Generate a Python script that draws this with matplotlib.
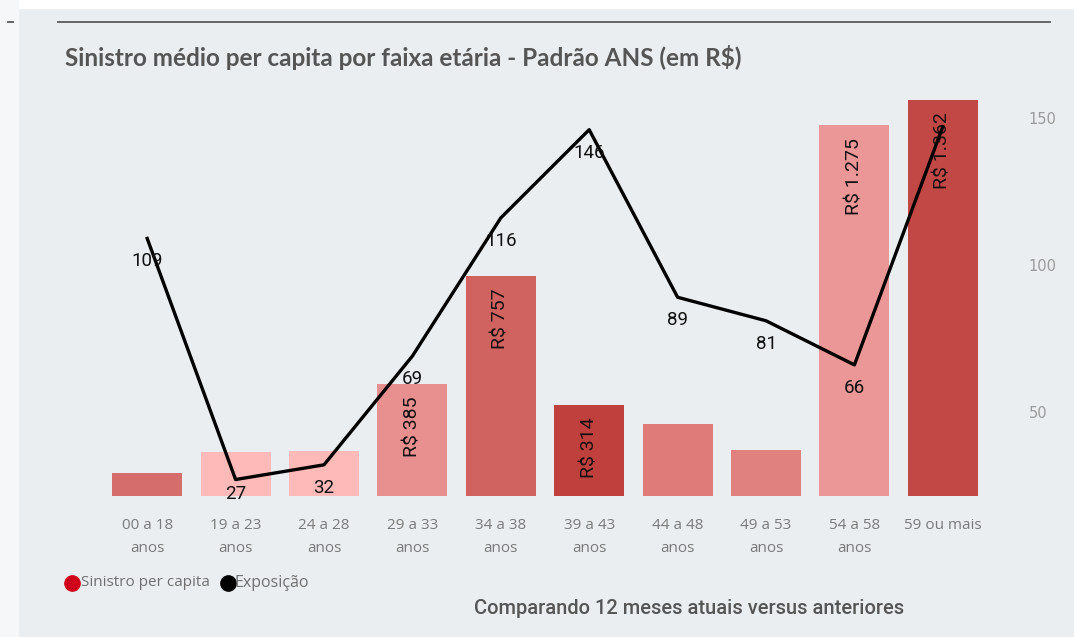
import matplotlib
matplotlib.use("Agg")
import matplotlib.pyplot as plt
from matplotlib.lines import Line2D
from matplotlib.patches import Rectangle

faixas = ["00 a 18\nanos", "19 a 23\nanos", "24 a 28\nanos", "29 a 33\nanos", "34 a 38\nanos",
          "39 a 43\nanos", "44 a 48\nanos", "49 a 53\nanos", "54 a 58\nanos", "59 ou mais"]
sinistro = [79, 151, 155, 385, 757, 314, 248, 158, 1275, 1362]
exposicao = [109, 27, 32, 69, 116, 146, 89, 81, 66, 147]
cores = ["#d46d6c", "#fdbab9", "#fdbab9", "#e8908f", "#d0625f",
         "#c0403e", "#df7c7a", "#e0817f", "#ec9797", "#c24846"]
mostrar_rotulo_linha = [True, True, True, True, True, True, True, True, True, False]

BG = "#eaeef1"
W, H = 1074, 637
Y2MIN, Y2MAX = 21.4, 157.8
AX_H = 496 - 95  # altura da área do gráfico em px

fig = plt.figure(figsize=(W / 100, H / 100), dpi=100, facecolor=BG)
# faixa branca do print
fig.add_artist(Rectangle((0, 1 - 8 / H), 1, 8 / H, transform=fig.transFigure, color="white", zorder=0))
fig.add_artist(Rectangle((0, 0), 18 / W, 1, transform=fig.transFigure, color="#f6f7f8", zorder=0))
fig.add_artist(Line2D([58 / W, 1050 / W], [1 - 22 / H] * 2, color="#5a5a5a", lw=1.3))
fig.add_artist(Line2D([8 / W, 13 / W], [1 - 22 / H] * 2, color="#5a5a5a", lw=1.3))

ax = fig.add_axes([103 / W, 1 - 496 / H, (987 - 103) / W, AX_H / H])
ax.set_facecolor("none")
x = list(range(len(faixas)))
ax.bar(x, sinistro, width=0.79, color=cores, zorder=1)
ax.set_xlim(-0.5, len(faixas) - 0.5)
ax.set_ylim(0, 1379)
ax.set_yticks([])
for s in ax.spines.values():
    s.set_visible(False)
ax.set_xticks(x)
ax.set_xticklabels(faixas, fontsize=11, color="#7a7a7a", family="Open Sans", linespacing=1.75)
ax.tick_params(axis="x", length=0, pad=16)

# rótulos das barras (só onde cabem)
for i, v in enumerate(sinistro):
    if v < 300:
        continue
    txt = "R$ " + f"{v:,}".replace(",", ".")
    ax.annotate(txt, (i, v), xytext=(0, -9), textcoords="offset points", rotation=90,
                ha="center", va="top", fontsize=14, color="#111111", family="Roboto", zorder=3)

ax2 = ax.twinx()
ax2.set_ylim(Y2MIN, Y2MAX)
ax2.plot(x, exposicao, color="black", lw=2.4, zorder=4)
ax2.set_yticks([50, 100, 150])
ax2.tick_params(axis="y", length=0, pad=30, labelsize=10.5, labelcolor="#9a9a9a")
for s in ax2.spines.values():
    s.set_visible(False)
px_por_unid = AX_H / (Y2MAX - Y2MIN)
for i, v in enumerate(exposicao):
    if not mostrar_rotulo_linha[i]:
        continue
    desloc = min(23, (v - Y2MIN) * px_por_unid - 2) * 0.72
    ax2.annotate(str(v), (i, v), xytext=(0, -desloc), textcoords="offset points",
                 ha="center", va="center", fontsize=13.5, color="#111111", family="Roboto", zorder=5)

fig.text(65 / W, 1 - 57 / H, "Sinistro médio per capita por faixa etária - Padrão ANS (em R$)",
         fontsize=17.5, fontweight="bold", color="#555555", family="Lato", va="center", ha="left")

# legenda
fig.add_artist(Line2D([72 / W], [1 - 583 / H], marker="o", markersize=11, color="#d0021b", lw=0))
fig.text(81 / W, 1 - 583 / H, "Sinistro per capita", fontsize=11, color="#6f6f6f",
         family="Open Sans", va="center", ha="left")
fig.add_artist(Line2D([228 / W], [1 - 583 / H], marker="o", markersize=11, color="black", lw=0))
fig.text(235 / W, 1 - 583 / H, "Exposição", fontsize=11.5, color="#6f6f6f",
         family="Open Sans", va="center", ha="left")

fig.text(689 / W, 1 - 608 / H, "Comparando 12 meses atuais versus anteriores",
         fontsize=14.5, color="#555555", family="Roboto", fontweight="medium", va="center", ha="center")

fig.savefig("out.png", dpi=100, facecolor=BG)
